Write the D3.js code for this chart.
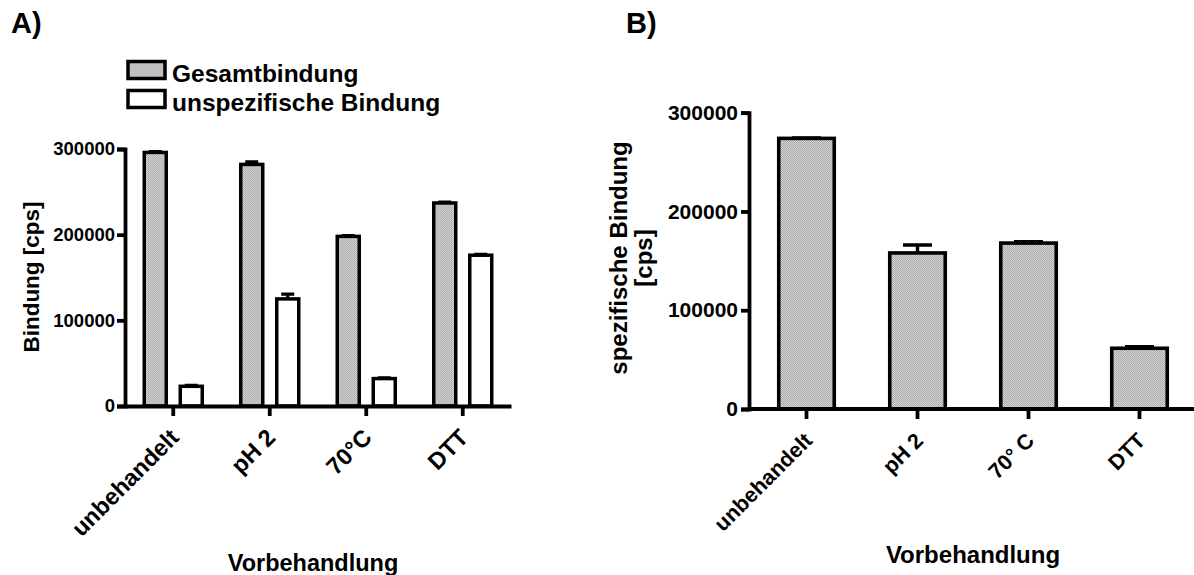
<!DOCTYPE html>
<html>
<head>
<meta charset="utf-8">
<script src="https://cdn.jsdelivr.net/npm/d3@7"></script>
<style>
  body { margin: 0; background: #fff; }
  text { font-family: "Liberation Sans", Arial, sans-serif; font-weight: bold; fill: #000; }
</style>
</head>
<body>
<div id="chart"></div>
<script>
// data
var categoriesA = ["unbehandelt", "pH 2", "70°C", "DTT"];
var seriesA = ["Gesamtbindung", "unspezifische Bindung"];
var gesamt = [296000, 282000, 198000, 237000];
var gesamtErr = [1000, 3000, 1000, 1000];
var unspez = [23000, 125000, 32000, 176000];
var unspezErr = [1000, 5500, 1000, 1000];

var categoriesB = ["unbehandelt", "pH 2", "70° C", "DTT"];
var spezifisch = [274000, 158000, 168000, 61500];
var spezErr = [500, 8000, 1500, 1700];

var yTicks = [0, 100000, 200000, 300000];

var svgWidth = 1194;
var svgHeight = 575;

var svg = d3.select("#chart")
  .append("svg")
  .attr("width", svgWidth)
  .attr("height", svgHeight);

// dithered grey fill like the original
var defs = svg.append("defs");
var pat = defs.append("pattern")
  .attr("id", "dots")
  .attr("width", 2)
  .attr("height", 2)
  .attr("patternUnits", "userSpaceOnUse");
pat.append("rect").attr("width", 2).attr("height", 2).attr("fill", "#d6d6d6");
pat.append("rect").attr("width", 1).attr("height", 1).attr("fill", "#a9a9a9");
pat.append("rect").attr("x", 1).attr("y", 1).attr("width", 1).attr("height", 1).attr("fill", "#a9a9a9");

function styleAxis(g, width) {
  g.selectAll("path, line")
    .attr("stroke", "#000")
    .attr("stroke-width", width);
}

// ==============================
// Panel A
// ==============================
var xA = d3.scaleBand().domain(categoriesA).range([125, 511]);
var xA1 = d3.scaleBand().domain(seriesA).range([-36, 36]);
var yA = d3.scaleLinear().domain([0, 300000]).range([406, 149]);

var rowsA = categoriesA.map(function(c, i) {
  return [
    {cat: c, s: seriesA[0], v: gesamt[i], e: gesamtErr[i]},
    {cat: c, s: seriesA[1], v: unspez[i], e: unspezErr[i]}
  ];
});
var barW_A = 22;

var barsA = svg.append("g").selectAll("g")
  .data(rowsA)
  .enter()
  .append("g")
  .attr("transform", function(d) { return "translate(" + (xA(d[0].cat) + xA.bandwidth() / 2) + ",0)"; });

barsA.selectAll("rect")
  .data(function(d) { return d; })
  .enter()
  .append("rect")
  .attr("x", function(d) { return xA1(d.s) + (xA1.bandwidth() - barW_A) / 2; })
  .attr("y", function(d) { return yA(d.v); })
  .attr("width", barW_A)
  .attr("height", function(d) { return yA(0) - yA(d.v); })
  .attr("fill", function(d) { return d.s === seriesA[0] ? "url(#dots)" : "#fff"; })
  .attr("stroke", "#000")
  .attr("stroke-width", 3.5);

// error bars (upper only)
barsA.selectAll("path.err")
  .data(function(d) { return d; })
  .enter()
  .append("path")
  .attr("class", "err")
  .attr("fill", "none")
  .attr("stroke", "#000")
  .attr("stroke-width", 3.2)
  .attr("d", function(d) {
    var cx = xA1(d.s) + xA1.bandwidth() / 2;
    var top = yA(d.v + d.e);
    return "M" + cx + "," + yA(d.v) + "V" + top + "M" + (cx - 6.5) + "," + top + "H" + (cx + 6.5);
  });

var yAxisA = svg.append("g")
  .attr("transform", "translate(125,0)")
  .call(d3.axisLeft(yA).tickValues(yTicks).tickSize(8).tickSizeOuter(8).tickPadding(2).tickFormat(d3.format("d")));
styleAxis(yAxisA, 3.8);
yAxisA.selectAll("text").style("font-size", "18.5px");

var xAxisA = svg.append("g")
  .attr("transform", "translate(0,406)")
  .call(d3.axisBottom(xA).tickSize(10).tickSizeOuter(0));
styleAxis(xAxisA, 3.8);
xAxisA.selectAll("text")
  .attr("x", 0).attr("y", 0).attr("dy", null)
  .attr("text-anchor", "end")
  .attr("transform", "translate(7,33) rotate(-45)")
  .style("font-size", "23.5px");

svg.append("text")
  .attr("transform", "translate(39,277) rotate(-90)")
  .attr("text-anchor", "middle")
  .style("font-size", "22.5px")
  .text("Bindung [cps]");

svg.append("text")
  .attr("x", 313)
  .attr("y", 571)
  .attr("text-anchor", "middle")
  .style("font-size", "23.5px")
  .text("Vorbehandlung");

svg.append("text")
  .attr("x", 11)
  .attr("y", 33)
  .style("font-size", "29px")
  .text("A)");

// legend
var legend = svg.append("g").selectAll("g")
  .data(seriesA)
  .enter()
  .append("g")
  .attr("transform", function(d, i) { return "translate(128," + (61.5 + i * 29) + ")"; });

legend.append("rect")
  .attr("width", 37)
  .attr("height", 17)
  .attr("fill", function(d, i) { return i === 0 ? "url(#dots)" : "#fff"; })
  .attr("stroke", "#000")
  .attr("stroke-width", 3.5);

legend.append("text")
  .attr("x", 44)
  .attr("y", 20)
  .style("font-size", "24.5px")
  .text(function(d) { return d; });

// ==============================
// Panel B
// ==============================
var xB = d3.scaleBand().domain(categoriesB).range([751, 1195]).paddingInner(0.5).paddingOuter(0.25);
var yB = d3.scaleLinear().domain([0, 300000]).range([409, 112.7]);

var rowsB = categoriesB.map(function(c, i) {
  return {cat: c, v: spezifisch[i], e: spezErr[i]};
});

svg.append("g").selectAll("rect")
  .data(rowsB)
  .enter()
  .append("rect")
  .attr("x", function(d) { return xB(d.cat); })
  .attr("y", function(d) { return yB(d.v); })
  .attr("width", xB.bandwidth())
  .attr("height", function(d) { return yB(0) - yB(d.v); })
  .attr("fill", "url(#dots)")
  .attr("stroke", "#000")
  .attr("stroke-width", 3.6);

svg.append("g").selectAll("path")
  .data(rowsB)
  .enter()
  .append("path")
  .attr("fill", "none")
  .attr("stroke", "#000")
  .attr("stroke-width", 3.4)
  .attr("d", function(d) {
    var cx = xB(d.cat) + xB.bandwidth() / 2;
    var top = yB(d.v + d.e);
    return "M" + cx + "," + yB(d.v) + "V" + top + "M" + (cx - 14.5) + "," + top + "H" + (cx + 14.5);
  });

var yAxisB = svg.append("g")
  .attr("transform", "translate(749,0)")
  .call(d3.axisLeft(yB).tickValues(yTicks).tickSize(8).tickSizeOuter(8).tickPadding(3).tickFormat(d3.format("d")));
styleAxis(yAxisB, 3.8);
yAxisB.selectAll("text").style("font-size", "21px");

var xAxisB = svg.append("g")
  .attr("transform", "translate(0,409)")
  .call(d3.axisBottom(xB).tickSize(10).tickSizeOuter(0));
xAxisB.select(".domain").attr("d", "M749,0H1194");
styleAxis(xAxisB, 3.8);
xAxisB.selectAll("text")
  .attr("x", 0).attr("y", 0).attr("dy", null)
  .attr("text-anchor", "end")
  .attr("transform", "translate(7,33) rotate(-45)")
  .style("font-size", "21.5px");

var yLabelB = svg.append("text")
  .attr("transform", "translate(627,258) rotate(-90)")
  .attr("text-anchor", "middle")
  .style("font-size", "24px");
yLabelB.append("tspan").attr("x", 0).attr("y", 0).text("spezifische Bindung");
yLabelB.append("tspan").attr("x", 0).attr("y", 25).text("[cps]");

svg.append("text")
  .attr("x", 973)
  .attr("y", 563)
  .attr("text-anchor", "middle")
  .style("font-size", "24px")
  .text("Vorbehandlung");

svg.append("text")
  .attr("x", 626)
  .attr("y", 33)
  .style("font-size", "29px")
  .text("B)");
</script>
</body>
</html>
